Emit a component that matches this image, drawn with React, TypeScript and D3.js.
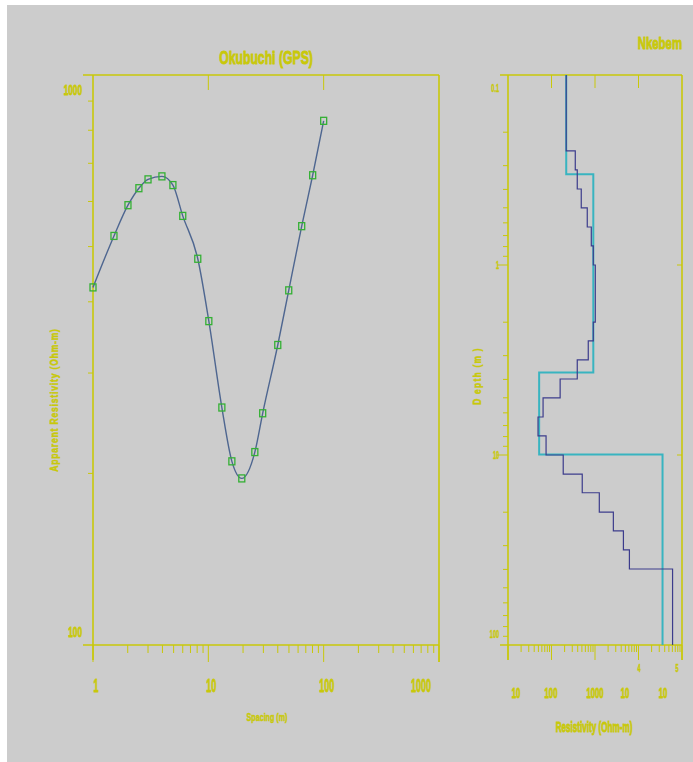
import { useEffect, useRef } from 'react';
import * as d3 from 'd3';

// sounding curve (Okubuchi) - spacing (m) vs apparent resistivity (ohm-m)
const spacing = [1, 1.52, 2.01, 2.5, 3, 3.96, 4.93, 6, 8.1, 10.1, 13.1, 16, 19.5, 25.3, 29.6, 40, 49.8, 64.5, 80.3, 100];
const appRes = [424, 522, 591, 633, 656, 664, 641, 566, 476, 370, 261, 210, 196, 218, 255, 336, 419, 543, 667, 831];

// layered model (Nkebem) - depth boundaries (m) and layer resistivities (ohm-m)
const modelDepths = [0.1, 0.333, 3.68, 9.95, 100];
const modelRes = [218, 914, 52, 35700];

const smoothDepths = [0.1, 0.251, 0.316, 0.398, 0.501, 0.631, 0.794, 1.0, 2.0, 2.51, 3.16, 3.98, 5.01, 6.31, 7.94, 10, 12.6, 15.8, 20, 25.1, 31.6, 39.8, 100];
const smoothRes = [218, 352, 391, 483, 664, 822, 914, 1016, 914, 700, 391, 158, 64, 49, 75, 186, 509, 1256, 2642, 4500, 6180, 60700];

const xLabelsLeft = ['1', '10', '100', '1000'];
const resLabels = ['10', '100', '1000', '10', '10'];
const resSup = ['', '', '', '4', '5'];
const depthLabels = ['0.1', '1', '10', '100'];

const YEL = '#c8c80a';
const BG = '#cccccc';
const FONT = "'Liberation Sans', Arial, sans-serif";

const App = () => {
  const ref = useRef<SVGSVGElement>(null);

  useEffect(() => {
    const svg = d3.select(ref.current);
    svg.selectAll('*').remove();

    svg.append('rect').attr('x', 7).attr('y', 5).attr('width', 686).attr('height', 757).attr('fill', BG);

    // narrow bold text, squeezed horizontally like the old plotting font
    const txt = (x: number, y: number, s: string, size: number, sx: number, anchor = 'middle', rot = 0, ls = 0) =>
      svg.append('text')
        .attr('transform', `translate(${x},${y})${rot ? ` rotate(${rot})` : ''} scale(${sx},1)`)
        .attr('text-anchor', anchor)
        .attr('font-family', FONT)
        .attr('font-weight', 'bold')
        .attr('font-size', size)
        .attr('letter-spacing', ls)
        .attr('fill', YEL)
        .attr('stroke', YEL)
        .attr('stroke-width', size > 13 ? 0.9 : 0.5)
        .text(s);

    const ln = (x1: number, y1: number, x2: number, y2: number, w = 1.2) =>
      svg.append('line')
        .attr('x1', x1).attr('y1', y1).attr('x2', x2).attr('y2', y2)
        .attr('stroke', YEL).attr('stroke-width', w);

    // ---------- left panel ----------
    const xL = d3.scaleLog().domain([1, 1000]).range([93, 439]);
    const yL = d3.scaleLog().domain([100, 1000]).range([645, 75]);

    ln(83, 75, 439, 75, 1.6);
    ln(83, 645, 439, 645, 1.6);
    ln(93, 75, 93, 660, 1.6);
    ln(439, 75, 439, 662, 1.6);

    xL.ticks().forEach(t => {
      const major = Math.abs(Math.log10(t) - Math.round(Math.log10(t))) < 1e-9;
      const x = xL(t);
      ln(x, 645, x, major ? 662 : 653, 1);
      if (major && t < 1000 && t > 1) ln(x, 75, x, 90, 1);
    });
    yL.ticks().forEach(t => {
      const y = yL(t);
      if (t > 100 && t < 1000) ln(88, y, 93, y, 1);
    });

    xLabelsLeft.forEach((s, i) => {
      const x = xL(Math.pow(10, i)) + (i === 3 ? -18 : 3);
      txt(x, 692, s, 18, 0.5);
    });
    txt(82, 95, '1000', 15, 0.55, 'end');
    txt(82, 637, '100', 15, 0.55, 'end');

    txt(266, 64, 'Okubuchi (GPS)', 18, 0.68);
    txt(267, 721, 'Spacing (m)', 11, 0.65);
    txt(58, 400, 'Apparent  Resistivity (Ohm-m)', 10, 0.85, 'middle', -90, 1);

    const pts = spacing.map((s, i) => [s, appRes[i]] as [number, number]);
    const curve = d3.line<[number, number]>()
      .x(d => xL(d[0]))
      .y(d => yL(d[1]))
      .curve(d3.curveMonotoneX);
    svg.append('path').datum(pts)
      .attr('d', curve)
      .attr('fill', 'none')
      .attr('stroke', '#4e6690')
      .attr('stroke-width', 1.4);

    svg.append('g').selectAll('rect').data(pts).join('rect')
      .attr('x', d => xL(d[0]) - 3)
      .attr('y', d => yL(d[1]) - 3.5)
      .attr('width', 6).attr('height', 7)
      .attr('fill', 'none')
      .attr('stroke', '#34b034')
      .attr('stroke-width', 1.3);

    // ---------- right panel ----------
    const xR = d3.scaleLog().domain([10, 1e5]).range([508, 682]);
    const yR = d3.scaleLog().domain([0.1, 100]).range([75, 645]);

    ln(500, 75, 682, 75, 1.6);
    ln(500, 645, 682, 645, 1.6);
    ln(508, 75, 508, 660, 1.6);
    ln(682, 75, 682, 660, 1.6);

    xR.ticks().forEach(t => {
      const major = Math.abs(Math.log10(t) - Math.round(Math.log10(t))) < 1e-9;
      const x = xR(t);
      ln(x, 645, x, major ? 660 : 652, 1);
      if (major && t > 10 && t < 1e5) ln(x, 75, x, 88, 1);
    });
    yR.ticks().forEach(t => {
      const major = Math.abs(Math.log10(t) - Math.round(Math.log10(t))) < 1e-9;
      const y = yR(t);
      if (t <= 0.1 || t >= 100) return;
      ln(major ? 497 : 503, y, 508, y, 1);
      if (major) ln(677, y, 682, y, 1);
    });

    depthLabels.forEach((s, i) => {
      const y = yR(Math.pow(10, i - 1));
      const yy = i === 0 ? y + 17 : i === 3 ? y - 7 : y + 4;
      txt(499, yy, s, 11, 0.5, 'end');
    });

    const resX = [516, 551, 595, 625, 663];
    resLabels.forEach((s, i) => {
      txt(resX[i], 698, s, 14, 0.55);
      if (resSup[i]) txt(resX[i] + 14, 672, resSup[i], 10, 0.55);
    });

    txt(682, 49, 'Nkebem', 17, 0.67, 'end');
    txt(594, 732, 'Resistivity (Ohm-m)', 14, 0.58);
    txt(481, 376, 'D epth  (m )', 10, 0.84, 'middle', -90, 1.5);

    const steps = (depths: number[], res: number[]) => {
      const out: [number, number][] = [];
      res.forEach((r, i) => {
        out.push([r, depths[i]]);
        out.push([r, depths[i + 1]]);
      });
      return out;
    };
    const stepLine = d3.line<[number, number]>()
      .x(d => xR(d[0]))
      .y(d => yR(d[1]));

    svg.append('path').datum(steps(modelDepths, modelRes))
      .attr('d', stepLine)
      .attr('fill', 'none')
      .attr('stroke', '#38b4c0')
      .attr('stroke-width', 2);

    svg.append('path').datum(steps(smoothDepths, smoothRes))
      .attr('d', stepLine)
      .attr('fill', 'none')
      .attr('stroke', '#3c3c8c')
      .attr('stroke-width', 1.2);
  }, []);

  return (
    <div style={{ position: 'absolute', left: 0, top: 0 }}>
      <svg ref={ref} width={693} height={762} style={{ display: 'block', background: '#fff' }} />
    </div>
  );
};

export default App;
